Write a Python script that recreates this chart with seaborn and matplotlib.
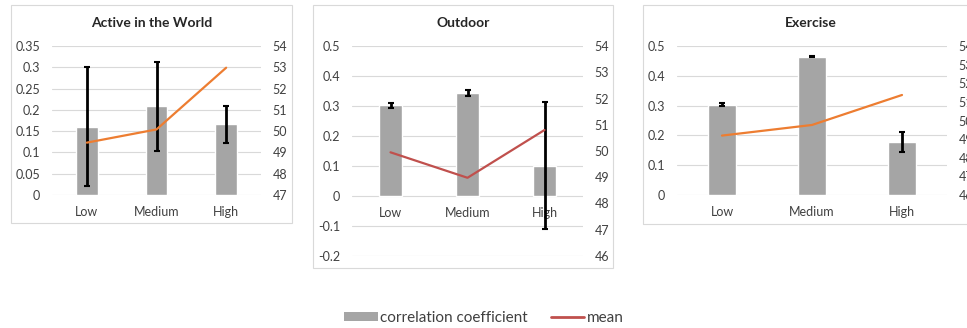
import matplotlib
matplotlib.use("Agg")
import matplotlib.pyplot as plt
from matplotlib.patches import Rectangle, Patch
from matplotlib.lines import Line2D
import seaborn as sns
import numpy as np
import pandas as pd

# ---------------- data ----------------
categories = ["Low", "Medium", "High"]

titles = ["Active in the World", "Outdoor", "Exercise"]

corr_active = [0.160, 0.209, 0.167]
err_lo_active = [0.020, 0.104, 0.123]
err_hi_active = [0.301, 0.313, 0.209]
mean_active = [49.46, 50.08, 52.98]

corr_outdoor = [0.302, 0.343, 0.101]
err_lo_outdoor = [0.295, 0.334, -0.110]
err_hi_outdoor = [0.310, 0.352, 0.313]
mean_outdoor = [49.95, 48.98, 50.80]

corr_exercise = [0.303, 0.463, 0.177]
err_lo_exercise = [0.298, 0.462, 0.145]
err_hi_exercise = [0.308, 0.465, 0.210]
mean_exercise = [49.19, 49.76, 51.37]

left_ticks_active = [0, 0.05, 0.1, 0.15, 0.2, 0.25, 0.3, 0.35]
left_ticks_outdoor = [-0.2, -0.1, 0, 0.1, 0.2, 0.3, 0.4, 0.5]
left_ticks_exercise = [0, 0.1, 0.2, 0.3, 0.4, 0.5]
right_ticks_active = [47, 48, 49, 50, 51, 52, 53, 54]
right_ticks_outdoor = [46, 47, 48, 49, 50, 51, 52, 53, 54]
right_ticks_exercise = [46, 47, 48, 49, 50, 51, 52, 53, 54]

legend_labels = ["correlation coefficient", "mean"]

# ---------------- style ----------------
W, H = 967, 328
sns.set_theme(style="white")
plt.rcParams["font.family"] = ["Lato", "DejaVu Sans"]

BAR = "#A5A5A5"
ORANGE = "#ED7D31"
RED = "#C0504D"
GRID = "#D9D9D9"
TXT = "#404040"

fig = plt.figure(figsize=(W / 100, H / 100), dpi=100)
fig.patch.set_facecolor("white")


def fbox(x0, y0, x1, y1):
    return [x0 / W, 1 - y1 / H, (x1 - x0) / W, (y1 - y0) / H]


# panel borders
for (x0, y0, x1, y1) in [(11, 5, 292, 223), (313, 5, 613, 268), (643, 5, 995, 224)]:
    fig.patches.append(Rectangle((x0 / W, 1 - y1 / H), (x1 - x0) / W, (y1 - y0) / H,
                                 transform=fig.transFigure, fill=False,
                                 edgecolor=GRID, linewidth=0.8))

panels = [
    dict(box=(52, 46, 261, 195), corr=corr_active, lo=err_lo_active, hi=err_hi_active,
         mean=mean_active, lt=left_ticks_active, rt=right_ticks_active, color=ORANGE,
         title=titles[0], tcx=151.5),
    dict(box=(352, 46, 583, 256), corr=corr_outdoor, lo=err_lo_outdoor, hi=err_hi_outdoor,
         mean=mean_outdoor, lt=left_ticks_outdoor, rt=right_ticks_outdoor, color=RED,
         title=titles[1], tcx=463),
    dict(box=(677, 46, 947, 195), corr=corr_exercise, lo=err_lo_exercise, hi=err_hi_exercise,
         mean=mean_exercise, lt=left_ticks_exercise, rt=right_ticks_exercise, color=ORANGE,
         title=titles[2], tcx=811),
]

for p in panels:
    ax = fig.add_axes(fbox(*p["box"]))
    df = pd.DataFrame({"cat": categories, "corr": p["corr"]})
    sns.barplot(data=df, x="cat", y="corr", color=BAR, saturation=1, width=0.31,
                ax=ax, zorder=2)
    xs = np.arange(len(categories))
    corr = np.array(p["corr"])
    yerr = [corr - np.array(p["lo"]), np.array(p["hi"]) - corr]
    ax.errorbar(xs, corr, yerr=yerr, fmt="none", ecolor="black", elinewidth=2,
                capsize=2.2, capthick=1.5, zorder=3)
    ax.set_xlim(-0.5, 2.5)
    ax.set_ylim(p["lt"][0], p["lt"][-1])
    ax.set_yticks(p["lt"])
    ax.set_yticklabels([f"{v:g}" for v in p["lt"]])
    ax.yaxis.grid(True, color=GRID, linewidth=0.8, zorder=0)
    ax.set_axisbelow(True)
    for s in ax.spines.values():
        s.set_visible(False)
    ax.spines["bottom"].set_position(("data", 0))
    ax.set_xlabel("")
    ax.set_ylabel("")
    ax.tick_params(axis="both", length=0, labelsize=9, colors=TXT)
    ax.tick_params(axis="y", pad=8.5)
    ax.tick_params(axis="x", pad=8)

    ax2 = ax.twinx()
    sns.lineplot(x=xs, y=p["mean"], ax=ax2, color=p["color"], linewidth=1.6)
    ax2.set_xlim(-0.5, 2.5)
    ax2.set_ylim(p["rt"][0], p["rt"][-1])
    ax2.set_yticks(p["rt"])
    ax2.set_yticklabels([str(v) for v in p["rt"]])
    for s in ax2.spines.values():
        s.set_visible(False)
    ax2.set_ylabel("")
    ax2.tick_params(axis="y", length=0, labelsize=9, colors=TXT, pad=8.5)
    ax2.grid(False)

    fig.text(p["tcx"] / W, 1 - 23 / H, p["title"], ha="center", va="center",
             fontsize=10, fontweight="bold", color="#262626")

handles = [Patch(facecolor=BAR, edgecolor="none"),
           Line2D([0], [0], color=RED, linewidth=2)]
fig.legend(handles, legend_labels, loc="center", bbox_to_anchor=(484 / W, 1 - 318 / H),
           ncol=2, frameon=False, fontsize=11, handlelength=2.2, handleheight=0.6,
           handletextpad=0.15, columnspacing=1.5, labelcolor=TXT)

fig.savefig("out.png", dpi=100, facecolor="white")
